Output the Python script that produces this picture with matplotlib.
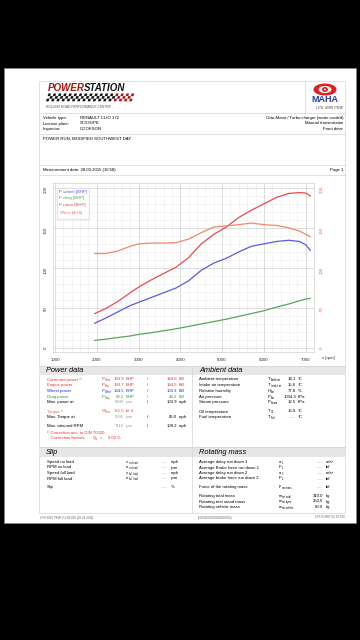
import matplotlib
matplotlib.use('Agg')
from matplotlib import pyplot as plt
from matplotlib.patches import Rectangle, Ellipse, Polygon

plt.rcParams['font.family'] = ['Liberation Sans', 'DejaVu Sans']
plt.rcParams['mathtext.fontset'] = 'custom'
plt.rcParams['mathtext.rm'] = 'Liberation Sans'
plt.rcParams['mathtext.it'] = 'Liberation Sans:italic'

# Dyno curves.
rpm     = [1950, 2200, 2500, 2800, 3000, 3300, 3600, 3900, 4200, 4500,
           4800, 5100, 5400, 5700, 6000, 6300, 6600, 6850, 7000, 7110]
p_wheel = [31, 37, 45, 53, 57, 63, 69, 75, 84, 97,
           106, 112, 120, 127, 130, 133, 134.5, 133, 129, 122]
p_drag  = [9.5, 11, 13, 15, 17, 19, 21.5, 24, 27, 30,
           33, 36, 39.5, 43, 46.5, 51, 55, 59, 61, 62]
p_norm  = [43, 49, 58, 69, 76, 85, 93, 101, 113, 130,
           142, 151, 163, 172, 180, 188, 193, 194, 193.5, 190]
m_norm  = [118, 118, 121, 127, 130, 131, 131, 131.5, 136, 144,
           151, 152.5, 154, 156, 154, 153, 150, 146, 142, 139]

x_ticks = [1000, 2000, 3000, 4000, 5000, 6000, 7000]
y_ticks = [0, 50, 100, 150, 200]

# Text blocks.
vehicle_keys = ['Vehicle type:', 'License plate:', 'Inspector:']
vehicle_vals = ['RENAULT CLIO 172', 'SC53GPE', 'COOKSON']
vehicle_right = ['Otto-Motor / Turbo charger (water-cooled)', 'Manual transmission', 'Front drive']

RED, BLUE, GREEN, ORANGE, GREY = '#e8312c', '#2b2bd8', '#2f9a2f', '#f2643c', '#9a9a9a'
power_rows = [
    ('Corrected power ¹⁾', 'P', 'Norm', '193.9', 'BHP', '144.6', 'kW', RED),
    ('Engine power', 'P', 'Eng', '193.7', 'BHP', '144.5', 'kW', RED),
    ('Wheel power', 'P', 'Wheel', '134.5', 'BHP', '100.3', 'kW', BLUE),
    ('Drag power', 'P', 'Drag', '59.2', 'BHP', '44.2', 'kW', GREEN),
    ('Max. power at', '', '', '6835', 'rpm', '103.9', 'mph', 'k'),
    ('Torque ¹⁾', 'M', 'Norm', '156.6', 'lbf.ft', '', '', ORANGE),
    ('Max. Torque at', '', '', '5595', 'rpm', '85.0', 'mph', 'k'),
    ('Max. attained RPM', '', '', '7115', 'rpm', '108.2', 'mph', 'k'),
]
power_y = [379, 385, 391, 397, 402, 411.5, 417, 426]

ambient_rows = [
    ('Ambient temperature', 'T', 'Ambient', '14.1', '°C'),
    ('Intake air temperature', 'T', 'Intake air', '15.6', '°C'),
    ('Relative humidity', 'H', 'Air', '77.8', '%'),
    ('Air pressure', 'P', 'Air', '1004.3', 'hPa'),
    ('Steam pressure', 'P', 'Steam', '12.5', 'hPa'),
    ('Oil temperature', 'T', 'Oil', '15.0', '°C'),
    ('Fuel temperature', 'T', 'Fuel', '---.-', '°C'),
]
ambient_y = [379, 385, 391, 397, 402, 411.5, 417]

slip_rows = [
    ('Speed no load', 'v', 'no load', '---.-', 'mph'),
    ('RPM no load', 'n', 'no load', '----', 'rpm'),
    ('Speed full load', 'v', 'full load', '---.-', 'mph'),
    ('RPM full load', 'n', 'full load', '----', 'rpm'),
    ('Slip', '', '', '---.-', '%'),
]
slip_y = [462, 467.5, 473, 478.5, 487]

rot_rows = [
    ('Average delay run down 1', 'a', '1', '---.-', 'm/s²'),
    ('Average Brake force run down 1', 'F', '1', '---.-', 'lbf'),
    ('Average delay run down 2', 'a', '2', '---.-', 'm/s²'),
    ('Average brake force run down 2', 'F', '2', '---.-', 'lbf'),
    ('Force of the rotating mass', 'F', 'rot mass', '---.-', 'lbf'),
    ('Rotating total mass', 'm', 'rot total', '310.0', 'kg'),
    ('Rotating test stand mass', 'm', 'rot dyno', '250.0', 'kg'),
    ('Rotating vehicle mass', 'm', 'rot vehicle', '60.0', 'kg'),
]
rot_y = [462, 467.5, 473, 478.5, 487, 496, 501.5, 507]

FS = 3.1

fig = plt.figure(figsize=(3.6, 6.4), dpi=100, facecolor='black')

# Page layer in pixel coordinates.
pg = fig.add_axes([0, 0, 1, 1])
pg.set_xlim(0, 360)
pg.set_ylim(640, 0)
pg.axis('off')

def t(x, y, s, c='k', size=FS, ha='left', **kw):
    pg.text(x, y, s, color=c, fontsize=size, ha=ha, va='center', **kw)

# Symbol with a small subscript, drawn as two plain texts.
def sym(x, y, main, sub, c='k'):
    if not main:
        return
    t(x, y - 0.3, main, c=c)
    t(x + 2.6, y + 0.9, sub, c=c, size=1.8)

def hline(y, x0=39, x1=345, c='#d4d4d4'):
    pg.plot([x0, x1], [y, y], color=c, lw=0.5)

def vline(x, y0, y1, c='#d4d4d4'):
    pg.plot([x, x], [y0, y1], color=c, lw=0.5)

pg.add_patch(Rectangle((4, 68), 352, 455, facecolor='white', edgecolor='#888888', lw=0.5))
pg.add_patch(Rectangle((39, 81), 306, 432, facecolor='none', edgecolor='#d4d4d4', lw=0.5))
for yy in [113, 134, 165, 175]:
    hline(yy)
vline(305, 81, 113)

# Powerstation logo.
pg.text(48, 88, 'POWER', color='#b01010', fontsize=7, fontweight='bold', fontstyle='italic', va='center')
pg.text(83.5, 88, 'STATION', color='#111111', fontsize=7, fontweight='bold', fontstyle='italic', va='center')
cell = 2.6
for r in range(3):
    for c in range(33):
        if (r + c) % 2 == 0:
            x0 = 46 + c * cell + (2 - r) * 0.8
            y0 = 93.5 + r * cell
            col = '#111111' if c < 26 else '#b01010'
            pg.add_patch(Polygon([(x0, y0 + cell), (x0 + cell, y0 + cell),
                                  (x0 + cell + 0.8, y0), (x0 + 0.8, y0)],
                                 closed=True, facecolor=col, edgecolor='none'))
t(46, 107, 'ROLLING ROAD PERFORMANCE CENTRE', c='#555555', size=2.3, fontstyle='italic')

# MAHA logo.
pg.add_patch(Ellipse((325, 89.5), 23, 12, facecolor='#e41e1e', edgecolor='none'))
pg.add_patch(Ellipse((325, 89.5), 13, 7, facecolor='white', edgecolor='none'))
pg.add_patch(Ellipse((325, 89.5), 6, 5, facecolor='#e41e1e', edgecolor='none'))
pg.add_patch(Ellipse((325, 89.5), 2, 1.8, facecolor='white', edgecolor='none'))
pg.text(325, 100, 'MAHA', color='#1f3fb0', fontsize=6.5, fontweight='bold', ha='center', va='center')
t(343, 108, 'LPS 3000 PKW', c='#444444', size=2.8, ha='right', fontstyle='italic')

for i, yy in enumerate([118, 123.5, 129]):
    t(43, yy, vehicle_keys[i])
    t(80, yy, vehicle_vals[i])
    t(343, yy, vehicle_right[i], ha='right')
t(43, 139, 'POWER RUN, MODIFIED SOUTHWEST DAY')
t(43, 170, 'Measurement date: 28.03.2015 (10:58)')
t(343, 170, 'Page 1', ha='right')

# Power / ambient section.
pg.add_patch(Rectangle((39, 366), 306, 9, facecolor='#e6e6e6', edgecolor='none'))
hline(366)
vline(192, 366, 513)
t(46, 370.5, 'Power data', size=5.3, fontstyle='italic')
t(199, 370.5, 'Ambient data', size=5.3, fontstyle='italic')
for (lab, m, s, v1, u1, v2, u2, col), yy in zip(power_rows, power_y):
    vc = GREY if u1 == 'rpm' else col
    t(47, yy, lab, c=col)
    sym(102, yy, m, s, c=col)
    t(124, yy, v1, c=vc, ha='right')
    t(126, yy, u1, c=vc)
    if v2:
        t(147, yy, '/', c=col)
        t(177, yy, v2, c=col, ha='right')
        t(179, yy, u2, c=col)
t(47, 432.5, '¹⁾ Correction acc. to DIN 70020', c=RED)
t(51, 438, 'Correction factors:', c=RED)
sym(93, 438, 'Q', 'c', c=RED)
t(99.5, 438, '=', c=RED)
t(121, 438, '0.00 %', c=RED, ha='right')
for (lab, m, s, v, u), yy in zip(ambient_rows, ambient_y):
    t(199, yy, lab)
    sym(268, yy, m, s)
    t(296, yy, v, ha='right', c=GREY if v.startswith('-') else 'k')
    t(298, yy, u)

# Slip / rotating mass section.
pg.add_patch(Rectangle((39, 447), 306, 10, facecolor='#e6e6e6', edgecolor='none'))
hline(447)
t(46, 452, 'Slip', size=5.3, fontstyle='italic')
t(199, 452, 'Rotating mass', size=5.3, fontstyle='italic')
for (lab, m, s, v, u), yy in zip(slip_rows, slip_y):
    t(47, yy, lab)
    sym(126, yy, m, s)
    t(167, yy, v, ha='right', c=GREY)
    t(171, yy, u)
for (lab, m, s, v, u), yy in zip(rot_rows, rot_y):
    t(199, yy, lab)
    sym(279, yy, m, s)
    t(323, yy, v, ha='right', c=GREY if v.startswith('-') else 'k')
    t(326, yy, u)

t(40, 517.5, 'LPS 3000 PKW V 2.00.000 (10.02.2011)', c='#666666', size=2.2)
t(215, 517.5, '(Y0011000000000000000)', c='#666666', size=2.2, ha='center')
t(345, 517.5, 'LPS-EURO V1.30.000', c='#666666', size=2.2, ha='right')

# Chart.
ax = fig.add_axes([53 / 360, 1 - 352 / 640, 261 / 360, 169 / 640])
ax.plot(rpm, p_wheel, color='#5a5ae6', lw=0.9, label='P-wheel [BHP]')
ax.plot(rpm, p_drag, color='#5aa55a', lw=0.9, label='P-drag [BHP]')
ax.plot(rpm, p_norm, color='#ea4b4b', lw=0.9, label='P-norm [BHP]')
ax.plot(rpm, m_norm, color='#f5866a', lw=0.9, label=r'M$_{\rm Norm}$ [lbf.ft]')
ax.set_xlim(950, 7200)
ax.set_ylim(-5, 206)
ax.set_xticks(x_ticks)
ax.set_xticks(range(1000, 7201, 200), minor=True)
ax.set_yticks(y_ticks)
ax.set_yticks(range(0, 201, 10), minor=True)
ax.grid(which='major', color='#d0d0d0', lw=0.5)
ax.grid(which='minor', color='#dcdcdc', lw=0.4, ls=(0, (2, 2)))
ax.tick_params(which='both', length=0, labelsize=3.2, colors='#333333', pad=4)
ax.tick_params(axis='y', labelrotation=90)
for s in ax.spines.values():
    s.set_color('#d0d0d0')
    s.set_linewidth(0.5)
leg = ax.legend(loc='upper left', fontsize=3.2, handlelength=0, handletextpad=0,
                labelcolor='linecolor', frameon=True, fancybox=False, edgecolor='#e0e0e0',
                borderpad=0.5, labelspacing=0.5, bbox_to_anchor=(0.005, 0.985))
ax2 = ax.twinx()
ax2.set_ylim(ax.get_ylim())
ax2.set_yticks(y_ticks)
ax2.tick_params(length=0, labelsize=3.2, colors=ORANGE, labelrotation=90, pad=4)
for s in ax2.spines.values():
    s.set_visible(False)
pg.text(322, 358, 'n [rpm]', fontsize=3.0, color='#333333', va='center')

fig.savefig('out.png', dpi=100, facecolor='black')
